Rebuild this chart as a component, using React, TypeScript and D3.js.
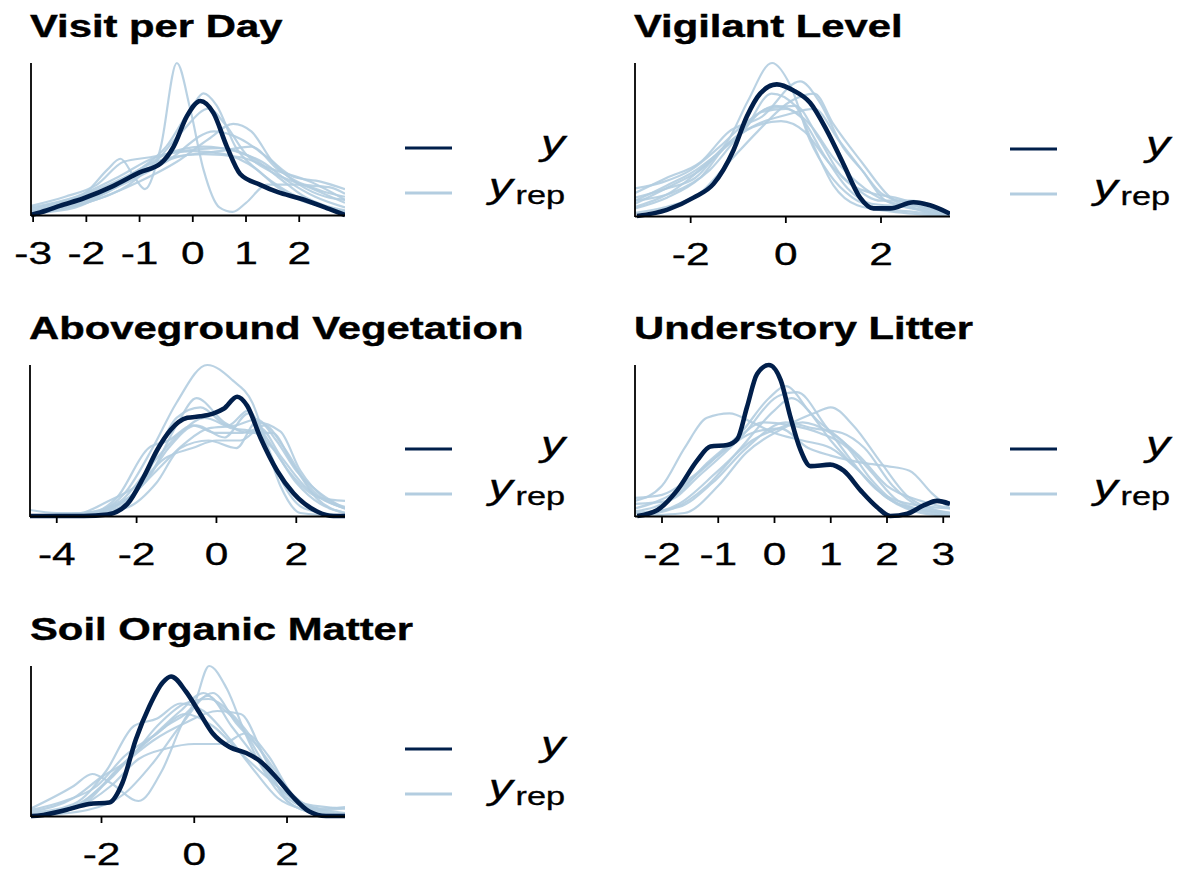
import React from "react";
import * as d3 from "d3";

type Pt = [number, number];

// ---------- Data (x, density) ----------
const titles = [
  "Visit per Day",
  "Vigilant Level",
  "Aboveground Vegetation",
  "Understory Litter",
  "Soil Organic Matter",
];

const visitTicks = [-3, -2, -1, 0, 1, 2];
const vigilTicks = [-2, 0, 2];
const vegTicks = [-4, -2, 0, 2];
const litterTicks = [-2, -1, 0, 1, 2, 3];
const soilTicks = [-2, 0, 2];

const visitDomain: Pt = [-3.04, 2.86];
const vigilDomain: Pt = [-3.17, 3.45];
const vegDomain: Pt = [-4.67, 3.22];
const litterDomain: Pt = [-2.48, 3.12];
const soilDomain: Pt = [-3.52, 3.25];

const visitY: Pt[] = [[-3.04,0],[-2.75,0.03],[-2.5,0.06],[-2.05,0.11],[-1.5,0.19],[-1,0.28],[-0.6,0.34],[-0.36,0.45],[-0.11,0.65],[0.14,0.75],[0.39,0.67],[0.64,0.45],[0.89,0.27],[1.26,0.2],[1.6,0.15],[2.0,0.11],[2.56,0.04],[2.86,0]];
const visitRep: Pt[][] = [
  [[-3.04,0.03],[-2.5,0.08],[-2,0.15],[-1.6,0.3],[-1.36,0.37],[-1.1,0.25],[-0.9,0.17],[-0.6,0.45],[-0.3,1.0],[-0.05,0.7],[0.2,0.3],[0.5,0.05],[0.75,0.02],[1.0,0.08],[1.4,0.2],[2.0,0.2],[2.5,0.15],[2.86,0.12]],
  [[-3.04,0.02],[-2,0.12],[-1,0.3],[-0.5,0.45],[0,0.72],[0.2,0.8],[0.45,0.72],[0.8,0.45],[1.2,0.3],[1.8,0.15],[2.4,0.06],[2.86,0.02]],
  [[-3.04,0.01],[-2,0.08],[-1,0.22],[-0.3,0.35],[0.3,0.5],[0.76,0.6],[1.1,0.55],[1.5,0.35],[2,0.2],[2.5,0.12],[2.86,0.1]],
  [[-3.04,0.04],[-2,0.14],[-1,0.3],[-0.5,0.4],[0.2,0.45],[0.8,0.42],[1.3,0.35],[1.8,0.22],[2.3,0.12],[2.86,0.05]],
  [[-3.04,0.05],[-2.2,0.12],[-1.4,0.25],[-0.7,0.38],[0,0.42],[0.6,0.4],[1.2,0.3],[1.6,0.18],[2.0,0.1],[2.5,0.05],[2.86,0.02]],
  [[-3.04,0.02],[-2,0.1],[-1.2,0.22],[-0.5,0.35],[0.4,0.55],[0.9,0.5],[1.4,0.38],[1.9,0.25],[2.4,0.22],[2.86,0.17]],
  [[-3.04,0.01],[-2.2,0.05],[-1.5,0.18],[-1,0.3],[-0.4,0.38],[0.2,0.4],[0.9,0.38],[1.5,0.3],[2.2,0.22],[2.86,0.1]],
  [[-3.04,0.06],[-2.4,0.12],[-1.8,0.2],[-1.3,0.35],[-0.8,0.38],[-0.2,0.42],[0.5,0.44],[1.1,0.38],[1.6,0.25],[2.1,0.12],[2.86,0.03]],
  [[-3.04,0.02],[-2,0.08],[-1.2,0.2],[-0.7,0.35],[-0.2,0.55],[0.3,0.7],[0.6,0.6],[1.0,0.4],[1.5,0.28],[2.2,0.18],[2.86,0.08]],
  [[-3.04,0.0],[-2.5,0.04],[-1.6,0.15],[-0.9,0.3],[-0.3,0.38],[0.5,0.42],[1.1,0.45],[1.6,0.3],[2.1,0.2],[2.6,0.18],[2.86,0.14]],
];

const vigilY: Pt[] = [[-3.13,0],[-2.5,0.04],[-1.94,0.12],[-1.52,0.21],[-1.1,0.43],[-0.82,0.65],[-0.54,0.8],[-0.19,0.86],[0.16,0.82],[0.51,0.74],[0.86,0.56],[1.21,0.34],[1.56,0.12],[1.84,0.05],[2.19,0.05],[2.68,0.09],[3.03,0.07],[3.45,0.015]];
const vigilRep: Pt[][] = [
  [[-3.17,0.1],[-2.5,0.2],[-1.8,0.32],[-1.2,0.5],[-0.8,0.75],[-0.29,1.0],[0.1,0.85],[0.5,0.5],[0.9,0.28],[1.4,0.12],[2,0.05],[2.6,0.03],[3.45,0.0]],
  [[-3.17,0.15],[-2.5,0.25],[-1.8,0.35],[-1.2,0.55],[-0.5,0.65],[0.3,0.88],[0.7,0.75],[1.2,0.45],[1.6,0.3],[2,0.15],[2.6,0.08],[3.45,0.01]],
  [[-3.17,0.08],[-2.4,0.2],[-1.8,0.3],[-1.1,0.5],[-0.5,0.68],[0,0.7],[0.5,0.6],[1.0,0.38],[1.5,0.22],[2.1,0.1],[2.8,0.06],[3.45,0.02]],
  [[-3.17,0.18],[-2.6,0.22],[-2,0.3],[-1.4,0.45],[-0.8,0.62],[-0.2,0.72],[0.3,0.65],[0.8,0.4],[1.3,0.18],[1.8,0.08],[2.5,0.06],[3.45,0.01]],
  [[-3.17,0.05],[-2.5,0.12],[-1.8,0.25],[-1.2,0.48],[-0.6,0.6],[0,0.66],[0.6,0.7],[1.1,0.5],[1.6,0.3],[2.1,0.1],[2.8,0.04],[3.45,0.0]],
  [[-3.17,0.12],[-2.5,0.18],[-1.9,0.25],[-1.3,0.45],[-0.7,0.58],[-0.1,0.62],[0.4,0.55],[0.9,0.35],[1.4,0.2],[2,0.1],[2.6,0.1],[3.45,0.02]],
  [[-3.17,0.02],[-2.5,0.06],[-1.8,0.15],[-1.2,0.35],[-0.6,0.55],[0.1,0.75],[0.6,0.8],[1.0,0.6],[1.6,0.35],[2.2,0.12],[2.8,0.04],[3.45,0.0]],
  [[-3.17,0.1],[-2.4,0.15],[-1.6,0.3],[-1.0,0.52],[-0.4,0.7],[0.2,0.72],[0.7,0.5],[1.2,0.25],[1.8,0.15],[2.3,0.12],[3.0,0.05],[3.45,0.01]],
  [[-3.17,0.06],[-2.5,0.14],[-2,0.25],[-1.4,0.42],[-0.9,0.55],[-0.3,0.8],[0.2,0.72],[0.6,0.45],[1.0,0.2],[1.5,0.07],[2.2,0.03],[3.45,0.0]],
];

const vegY: Pt[] = [[-4.67,0],[-3.32,0],[-2.73,0.01],[-2.23,0.08],[-1.82,0.26],[-1.48,0.44],[-1.15,0.57],[-0.73,0.65],[-0.4,0.66],[-0.07,0.68],[0.18,0.71],[0.52,0.79],[0.77,0.73],[1.1,0.52],[1.52,0.3],[1.93,0.15],[2.52,0.03],[2.93,0],[3.22,0]];
const vegRep: Pt[][] = [
  [[-4.67,0],[-3,0.03],[-2.3,0.15],[-1.6,0.45],[-1,0.75],[-0.23,1.0],[0.4,0.9],[0.9,0.75],[1.3,0.45],[1.7,0.2],[2.2,0.05],[3.22,0]],
  [[-4.67,0.04],[-4,0.02],[-3.2,0.02],[-2.5,0.12],[-1.7,0.45],[-1.2,0.5],[-0.6,0.6],[0,0.55],[0.6,0.55],[1.1,0.58],[1.6,0.4],[2.2,0.2],[3.22,0.05]],
  [[-4.67,0],[-3.2,0.01],[-2.4,0.08],[-1.6,0.3],[-1,0.6],[-0.5,0.78],[0.2,0.62],[0.8,0.55],[1.4,0.55],[1.9,0.35],[2.5,0.12],[3.22,0.02]],
  [[-4.67,0],[-3.5,0.01],[-2.6,0.06],[-1.8,0.22],[-1.2,0.45],[-0.5,0.6],[0.2,0.52],[0.8,0.68],[1.3,0.5],[1.8,0.3],[2.6,0.12],[3.22,0.1]],
  [[-4.67,0],[-3.4,0.02],[-2.7,0.1],[-2,0.2],[-1.3,0.38],[-0.6,0.45],[0,0.5],[0.6,0.5],[1.2,0.6],[1.7,0.45],[2.3,0.2],[3.22,0.05]],
  [[-4.67,0],[-3.5,0.01],[-2.5,0.05],[-1.8,0.25],[-1,0.65],[-0.4,0.72],[0.3,0.6],[0.8,0.7],[1.2,0.5],[1.6,0.2],[2.1,0.02],[3.22,0]],
  [[-4.67,0],[-3,0.03],[-2.2,0.12],[-1.5,0.3],[-0.8,0.48],[-0.2,0.58],[0.5,0.6],[1.0,0.64],[1.5,0.5],[2.0,0.3],[2.6,0.15],[3.22,0.05]],
  [[-4.67,0],[-3.3,0.02],[-2.4,0.1],[-1.6,0.35],[-0.9,0.55],[-0.3,0.65],[0.4,0.58],[0.9,0.56],[1.4,0.45],[2.0,0.22],[2.6,0.08],[3.22,0.02]],
  [[-4.67,0],[-3.2,0.01],[-2.2,0.06],[-1.5,0.22],[-0.9,0.45],[-0.2,0.5],[0.5,0.45],[1.0,0.62],[1.6,0.56],[2.1,0.3],[2.7,0.12],[3.22,0.06]],
];

const litterY: Pt[] = [[-2.44,0],[-2.08,0.04],[-1.73,0.17],[-1.37,0.37],[-1.14,0.46],[-0.84,0.47],[-0.66,0.51],[-0.49,0.72],[-0.31,0.94],[-0.1,1.0],[0.11,0.9],[0.28,0.66],[0.46,0.44],[0.64,0.33],[0.99,0.34],[1.23,0.3],[1.53,0.17],[1.82,0.06],[2.06,0.0],[2.36,0.015],[2.65,0.07],[2.89,0.1],[3.12,0.08]];
const litterRep: Pt[][] = [
  [[-2.48,0.1],[-2.0,0.2],[-1.6,0.45],[-1.2,0.65],[-0.8,0.68],[-0.4,0.62],[0,0.55],[0.5,0.5],[1.0,0.45],[1.5,0.3],[2.0,0.12],[2.6,0.02],[3.12,0]],
  [[-2.48,0.03],[-1.8,0.12],[-1.2,0.35],[-0.6,0.55],[-0.1,0.78],[0.2,0.86],[0.6,0.7],[1.0,0.5],[1.5,0.3],[2.0,0.12],[2.6,0.04],[3.12,0.01]],
  [[-2.48,0.0],[-1.7,0.08],[-1.0,0.3],[-0.4,0.5],[0.2,0.6],[0.7,0.68],[1.0,0.72],[1.4,0.6],[1.9,0.35],[2.4,0.12],[3.12,0.02]],
  [[-2.48,0.12],[-2.0,0.14],[-1.5,0.25],[-1,0.4],[-0.4,0.55],[0.1,0.58],[0.6,0.45],[1.0,0.4],[1.6,0.35],[2.0,0.33],[2.4,0.3],[2.8,0.15],[3.12,0.05]],
  [[-2.48,0.0],[-1.8,0.05],[-1.2,0.2],[-0.6,0.45],[0,0.7],[0.3,0.78],[0.8,0.62],[1.2,0.5],[1.7,0.3],[2.2,0.1],[2.8,0.03],[3.12,0.02]],
  [[-2.48,0.05],[-1.8,0.15],[-1.3,0.3],[-0.7,0.5],[-0.2,0.62],[0.3,0.6],[0.8,0.55],[1.3,0.45],[1.7,0.25],[2.2,0.08],[3.12,0.0]],
  [[-2.48,0.0],[-1.6,0.02],[-1.0,0.2],[-0.5,0.42],[0,0.55],[0.5,0.62],[1.0,0.55],[1.5,0.4],[2.0,0.2],[2.6,0.1],[3.12,0.05]],
  [[-2.48,0.08],[-1.9,0.1],[-1.3,0.28],[-0.6,0.52],[0.1,0.8],[0.4,0.82],[0.9,0.6],[1.3,0.4],[1.8,0.18],[2.4,0.08],[3.12,0.05]],
  [[-2.48,0.02],[-1.7,0.06],[-1.1,0.22],[-0.5,0.45],[0.2,0.62],[0.7,0.58],[1.2,0.55],[1.6,0.45],[2.1,0.2],[2.6,0.06],[3.12,0.02]],
];

const soilY: Pt[] = [[-3.52,0],[-3.49,0],[-2.77,0.04],[-2.27,0.08],[-1.83,0.09],[-1.55,0.22],[-1.26,0.51],[-0.97,0.73],[-0.68,0.89],[-0.5,0.93],[-0.18,0.83],[0.11,0.69],[0.4,0.55],[0.76,0.46],[1.12,0.42],[1.4,0.37],[1.76,0.26],[2.12,0.13],[2.48,0.03],[2.84,0],[3.25,0]];
const soilRep: Pt[][] = [
  [[-3.52,0],[-2.5,0.08],[-1.8,0.25],[-1.2,0.45],[-0.6,0.6],[0,0.75],[0.32,1.0],[0.7,0.85],[1.1,0.55],[1.5,0.3],[2.0,0.1],[2.6,0.02],[3.25,0]],
  [[-3.52,0.05],[-2.6,0.2],[-2.2,0.28],[-1.8,0.22],[-1.2,0.1],[-0.7,0.3],[-0.2,0.65],[0.3,0.8],[0.8,0.6],[1.3,0.4],[1.8,0.2],[2.4,0.08],[3.25,0.05]],
  [[-3.52,0.02],[-2.6,0.08],[-1.9,0.3],[-1.3,0.6],[-0.8,0.65],[-0.3,0.75],[0.2,0.7],[0.8,0.5],[1.3,0.3],[1.8,0.12],[2.4,0.04],[3.25,0]],
  [[-3.52,0.0],[-2.5,0.06],[-1.8,0.2],[-1.2,0.38],[-0.6,0.45],[0,0.48],[0.6,0.48],[1.1,0.55],[1.6,0.4],[2.1,0.15],[2.7,0.05],[3.25,0.06]],
  [[-3.52,0.03],[-2.6,0.12],[-2.0,0.26],[-1.4,0.38],[-0.8,0.6],[-0.2,0.75],[0.3,0.78],[0.9,0.65],[1.4,0.45],[1.9,0.2],[2.5,0.05],[3.25,0]],
  [[-3.52,0.01],[-2.4,0.08],[-1.7,0.3],[-1.0,0.5],[-0.3,0.7],[0.2,0.82],[0.6,0.72],[1.0,0.6],[1.5,0.35],[2.0,0.12],[2.7,0.04],[3.25,0.05]],
  [[-3.52,0.0],[-2.6,0.05],[-2.0,0.2],[-1.5,0.35],[-0.9,0.5],[-0.2,0.62],[0.5,0.7],[1.0,0.68],[1.5,0.4],[2.0,0.1],[2.6,0.02],[3.25,0]],
  [[-3.52,0.04],[-2.8,0.1],[-2.1,0.2],[-1.5,0.4],[-0.8,0.55],[-0.2,0.68],[0.4,0.6],[1.0,0.42],[1.6,0.25],[2.2,0.1],[3.25,0.02]],
  [[-3.52,0.0],[-2.3,0.04],[-1.5,0.15],[-0.9,0.35],[-0.3,0.6],[0.4,0.82],[0.9,0.62],[1.4,0.45],[1.8,0.28],[2.3,0.08],[3.25,0.01]],
];

// ---------- Layout & style ----------
const DARK = "#011f4b";
const LIGHT = "#b3cde0";
const FONT = "'Liberation Sans', Arial, Helvetica, sans-serif";
const SX = 1.37;

type Panel = {
  title: string;
  ticks: number[];
  domain: Pt;
  y: Pt[];
  reps: Pt[][];
  left: number;
  right: number;
  top: number;
  bottom: number;
};

const panels: Panel[] = [
  { title: titles[0], ticks: visitTicks, domain: visitDomain, y: visitY, reps: visitRep, left: 31, right: 345, top: 63, bottom: 215 },
  { title: titles[1], ticks: vigilTicks, domain: vigilDomain, y: vigilY, reps: vigilRep, left: 635, right: 950, top: 63, bottom: 216 },
  { title: titles[2], ticks: vegTicks, domain: vegDomain, y: vegY, reps: vegRep, left: 30, right: 345, top: 365, bottom: 516 },
  { title: titles[3], ticks: litterTicks, domain: litterDomain, y: litterY, reps: litterRep, left: 635, right: 950, top: 365, bottom: 516 },
  { title: titles[4], ticks: soilTicks, domain: soilDomain, y: soilY, reps: soilRep, left: 31, right: 345, top: 666, bottom: 816 },
];

function PanelView({ p, idx }: { p: Panel; idx: number }) {
  const x = d3.scaleLinear().domain(p.domain).range([p.left, p.right]);
  const maxD = d3.max([p.y, ...p.reps], (c) => d3.max(c, (d) => d[1])) as number;
  const y = d3.scaleLinear().domain([0, maxD]).range([p.bottom, p.top]);
  const line = d3
    .line<Pt>()
    .x((d) => x(d[0]))
    .y((d) => y(d[1]))
    .curve(d3.curveMonotoneX);
  const clipId = `clip-${idx}`;
  const legX = p.right + 60;
  const darkY = p.bottom - 67;
  const lightY = p.bottom - 22;
  const labRight = legX + 160;
  return (
    <g>
      <defs>
        <clipPath id={clipId}>
          <rect x={p.left} y={p.top - 10} width={p.right - p.left} height={p.bottom - p.top + 14} />
        </clipPath>
      </defs>
      <g transform={`translate(${p.left - 1},${p.top - 26}) scale(${SX},1)`}>
        <text x={0} y={0} fontFamily={FONT} fontWeight="bold" fontSize={30.5} fill="#000" stroke="#000" strokeWidth={0.4}>
          {p.title}
        </text>
      </g>
      <g clipPath={`url(#${clipId})`}>
        {p.reps.map((c, i) => (
          <path key={i} d={line(c) || ""} fill="none" stroke={LIGHT} strokeOpacity={0.9} strokeWidth={2.2} />
        ))}
        <path d={line(p.y) || ""} fill="none" stroke={DARK} strokeWidth={4.6} strokeLinejoin="round" />
      </g>
      <line x1={p.left} x2={p.left} y1={p.top} y2={p.bottom + 1} stroke="#000" strokeWidth={1.8} />
      <line x1={p.left} x2={p.right} y1={p.bottom + 0.5} y2={p.bottom + 0.5} stroke="#000" strokeWidth={1.8} />
      {p.ticks.map((t) => (
        <g key={t}>
          <line x1={x(t)} x2={x(t)} y1={p.bottom} y2={p.bottom + 7} stroke="#000" strokeWidth={1.8} />
          <g transform={`translate(${x(t)},${p.bottom + 49}) scale(${SX},1)`}>
            <text x={0} y={0} textAnchor="middle" fontFamily={FONT} fontSize={31} fill="#000" stroke="#000" strokeWidth={0.3}>
              {t < 0 ? `-${Math.abs(t)}` : `${t}`}
            </text>
          </g>
        </g>
      ))}
      {/* legend */}
      <line x1={legX} x2={legX + 47} y1={darkY} y2={darkY} stroke={DARK} strokeWidth={3.2} />
      <line x1={legX} x2={legX + 47} y1={lightY} y2={lightY} stroke={LIGHT} strokeWidth={2.8} />
      <g transform={`translate(${labRight},${darkY + 7}) scale(${SX},1)`}>
        <text x={0} y={0} textAnchor="end" fontFamily={FONT} fontStyle="italic" fontSize={35} fill="#000" stroke="#000" strokeWidth={0.3}>
          y
        </text>
      </g>
      <g transform={`translate(${labRight},${lightY + 5}) scale(${SX},1)`}>
        <text x={0} y={0} textAnchor="end" fontFamily={FONT} fill="#000" stroke="#000" strokeWidth={0.3}>
          <tspan fontStyle="italic" fontSize={35}>y</tspan>
          <tspan fontSize={25} dx={2} dy={6}>rep</tspan>
        </text>
      </g>
    </g>
  );
}

export default function App() {
  return (
    <svg
      width={1180}
      height={873}
      style={{ position: "absolute", left: 0, top: 0, background: "#fff", display: "block" }}
    >
      <rect x={0} y={0} width={1180} height={873} fill="#fff" />
      {panels.map((p, i) => (
        <PanelView key={i} p={p} idx={i} />
      ))}
    </svg>
  );
}
